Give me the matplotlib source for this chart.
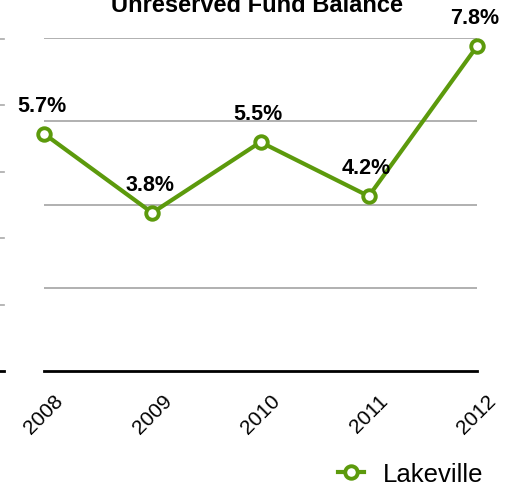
import numpy as np
from matplotlib import pyplot as plt

years = ['2008', '2009', '2010', '2011', '2012']
lakeville = [5.7, 3.8, 5.5, 4.2, 7.8]
labels = ['5.7%', '3.8%', '5.5%', '4.2%', '7.8%']
grid_vals = [2, 4, 6, 8]
stub_vals = [1, 2, 3, 4, 5]   # tick remnants of the neighbouring chart at the left edge

green = '#5c9a0c'
plt.rcParams['font.family'] = ['Liberation Sans', 'DejaVu Sans']

W, H = 513, 489
fig = plt.figure(figsize=(W / 100, H / 100), dpi=100)

# main axes in pixel terms
ax = fig.add_axes([44 / W, (H - 372) / H, 433 / W, 333 / H])
x = np.arange(len(years))
ax.set_xlim(0, len(years) - 1)
ax.set_ylim(0, 8)
for g in grid_vals:
    ax.axhline(g, color='#aaaaaa', lw=1.3, zorder=1)
ax.axhline(0, color='black', lw=2, zorder=1, clip_on=False)

ax.plot(x, lakeville, color=green, lw=3, marker='o', markersize=9,
        markerfacecolor='white', markeredgecolor=green, markeredgewidth=2.8,
        clip_on=False, zorder=3, label='Lakeville')
for xi, v, t in zip(x, lakeville, labels):
    ax.annotate(t, (xi, v), xytext=(-1.5, 13), textcoords='offset points',
                ha='center', va='bottom', fontsize=15.5, fontweight='bold')

for s in ax.spines.values():
    s.set_visible(False)
ax.set_yticks([])
ax.set_xticks(x)
ax.set_xticklabels(years, rotation=45, ha='center', va='top', fontsize=15)
ax.tick_params(axis='x', length=0, pad=14)

# sliver of the neighbouring chart
ax2 = fig.add_axes([0, (H - 372) / H, 4 / W, 332 / H])
ax2.set_xlim(0, 1)
ax2.set_ylim(0, 5)
ax2.axis('off')
for s in stub_vals:
    ax2.axhline(s, color='#aaaaaa', lw=1.2, clip_on=False)
ax2.axhline(0, color='black', lw=2, clip_on=False)

fig.text(257 / W, 1 - 12 / H, 'Unreserved Fund Balance', ha='center',
         va='baseline', fontsize=17, fontweight='bold')

fig.legend(loc='center left', bbox_to_anchor=(338 / W, 1 - 475 / H),
           frameon=False, fontsize=18.5, handlelength=1.0, handletextpad=0.75,
           borderpad=0, borderaxespad=0)

fig.savefig('out.png', dpi=100)
